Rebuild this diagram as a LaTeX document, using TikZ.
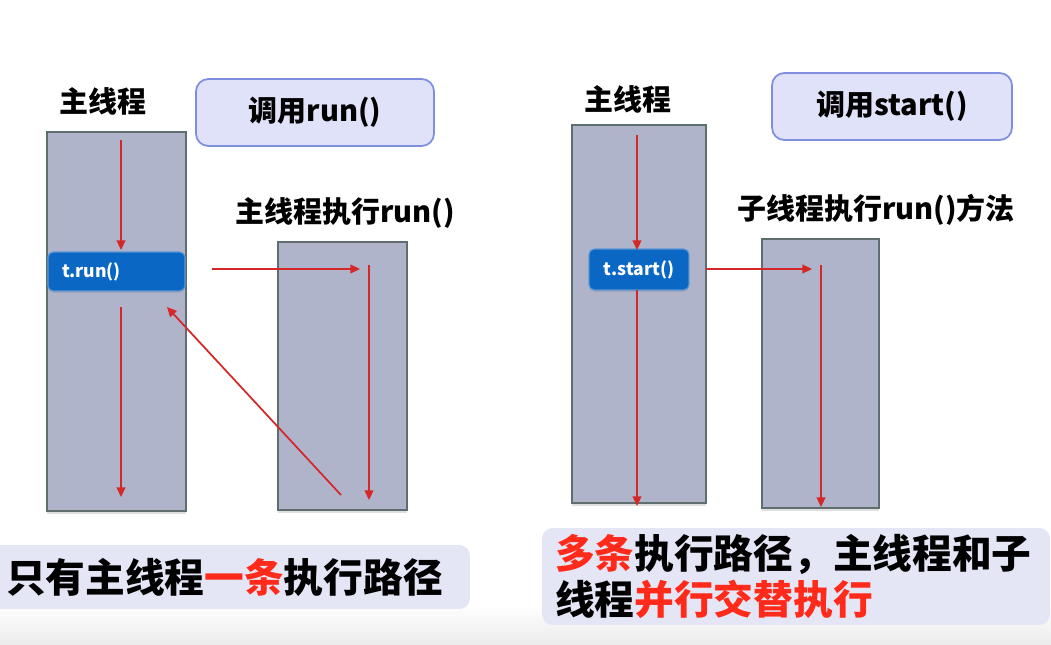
\documentclass[tikz,border=0pt]{standalone}
\usepackage{fontspec}
\setmainfont{Noto Sans CJK SC}
\usetikzlibrary{arrows.meta,shadows}
\definecolor{threadfill}{HTML}{B0B4CB}
\definecolor{threadline}{HTML}{5E6E6E}
\definecolor{methodfill}{HTML}{0A68C4}
\definecolor{methodline}{HTML}{5A96D6}
\definecolor{callfill}{HTML}{DFE2F8}
\definecolor{callline}{HTML}{7F8FE0}
\definecolor{sumfill}{HTML}{E5E6F5}
\definecolor{flowred}{HTML}{D42828}
\definecolor{keyred}{HTML}{FF2A1A}
\begin{document}
\begin{tikzpicture}[x=0.02cm, y=-0.02cm, >={Triangle[length=5.5pt,width=5pt]},
  font=\bfseries,
  threadbox/.style={draw=threadline, fill=threadfill, line width=1.2pt,
    drop shadow={shadow xshift=0pt, shadow yshift=-1.5pt, opacity=0.25}},
  methodbox/.style={draw=methodline, fill=methodfill, text=white, rounded corners=3pt,
    line width=0.6pt, font=\bfseries\fontsize{10}{12}\selectfont,
    drop shadow={shadow xshift=0pt, shadow yshift=-1pt, opacity=0.25}},
  callbox/.style={draw=callline, fill=callfill, rounded corners=7pt, line width=1pt,
    minimum height=1.34cm, font=\bfseries\fontsize{16.5}{19}\selectfont},
  title/.style={font=\bfseries\fontsize{16.5}{19}\selectfont},
  sumbox/.style={fill=sumfill, rounded corners=6pt, align=left,
    font=\bfseries\fontsize{22.6}{26.6}\selectfont},
  flow/.style={draw=flowred, line width=1pt, ->}]
  \useasboundingbox (0,0) rectangle (1051,645);
  % 底部的浅灰背景
  \shade[top color=white, bottom color=black!8] (0,605) rectangle (1051,645);

  % 左：调用run()
  \node[title] (mainLtitle) at (103,101) {主线程};
  \node[callbox, minimum width=4.76cm] (callL) at (315,112.5) {调用run()};
  \node[threadbox, minimum width=2.78cm, minimum height=7.58cm] (mainL) at (116.5,321.5) {};
  \node[methodbox, minimum height=0.78cm, text width=2.18cm, inner xsep=0.28cm, align=left]
    (runL) at (116.5,271.5) {t.run()};
  \node[title] (subLtitle) at (345,213) {主线程执行run()};
  \node[threadbox, minimum width=2.58cm, minimum height=5.36cm] (subL) at (342.5,376) {};
  \coordinate (L1a) at (121,140);  \coordinate (L1b) at (121,250);
  \coordinate (L2a) at (121,307);  \coordinate (L2b) at (121,497);
  \coordinate (L3a) at (212,269);  \coordinate (L3b) at (360,269);
  \coordinate (L4a) at (369,265);  \coordinate (L4b) at (369,500);
  \coordinate (L5a) at (341,495);  \coordinate (L5b) at (167,307);
  \draw[flow] (L1a) -- (L1b);
  \draw[flow] (L2a) -- (L2b);
  \draw[flow] (L3a) -- (L3b);
  \draw[flow] (L4a) -- (L4b);
  \draw[flow] (L5a) -- (L5b);
  \node[sumbox, minimum width=9.54cm, minimum height=1.28cm, text width=8.9cm, inner xsep=0.38cm]
    (sumL) at (228.5,577) {只有主线程\textcolor{keyred}{一条}执行路径};

  % 右：调用start()
  \node[title] (mainRtitle) at (628,99) {主线程};
  \node[callbox, minimum width=4.8cm] (callR) at (892,106.5) {调用start()};
  \node[threadbox, minimum width=2.68cm, minimum height=7.56cm] (mainR) at (639,314) {};
  \node[methodbox, minimum width=2cm, minimum height=0.82cm] (startR) at (639,269.5) {t.start()};
  \node[title] (subRtitle) at (876,210) {子线程执行run()方法};
  \node[threadbox, minimum width=2.34cm, minimum height=5.38cm] (subR) at (820.5,373.5) {};
  \coordinate (R1a) at (637,135);  \coordinate (R1b) at (637,250);
  \coordinate (R2a) at (637,290);  \coordinate (R2b) at (637,506);
  \coordinate (R3a) at (706,269);  \coordinate (R3b) at (812,269);
  \coordinate (R4a) at (821,265);  \coordinate (R4b) at (821,507);
  \draw[flow] (R1a) -- (R1b);
  \draw[flow] (R2a) -- (R2b);
  \draw[flow] (R3a) -- (R3b);
  \draw[flow] (R4a) -- (R4b);
  \node[sumbox, minimum width=10.12cm, minimum height=1.94cm, text width=9.64cm, inner xsep=0.26cm]
    (sumR) at (796,576.5) {\textcolor{keyred}{多条}执行路径，主线程和子\\线程\textcolor{keyred}{并行交替执行}};
\end{tikzpicture}
\end{document}
